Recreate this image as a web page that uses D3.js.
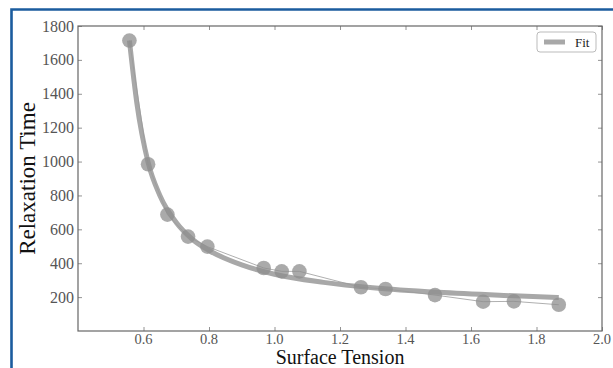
<!DOCTYPE html>
<html>
<head>
<meta charset="utf-8">
<script src="https://cdn.jsdelivr.net/npm/d3@7"></script>
<style>
  html, body { margin: 0; padding: 0; background: #fff; overflow: hidden; }
  svg { display: block; }
</style>
</head>
<body>
<div id="chart"></div>
<script>
// measured points
const tension = [0.557, 0.614, 0.673, 0.736, 0.795, 0.967, 1.022, 1.076, 1.264, 1.339, 1.490, 1.637, 1.731, 1.868];
const relaxTime = [1714, 984, 687, 557, 498, 372, 352, 352, 258, 248, 212, 173, 175, 155];

// fit curve
const fitX = [0.557, 0.58, 0.614, 0.65, 0.7, 0.75, 0.8, 0.9, 1.0, 1.15, 1.3, 1.5, 1.7, 1.868];
const fitY = [1714, 1340, 995, 800, 640, 540, 475, 390, 335, 287, 255, 228, 210, 198];

const xTicks = [0.6, 0.8, 1.0, 1.2, 1.4, 1.6, 1.8, 2.0];
const yTicks = [200, 400, 600, 800, 1000, 1200, 1400, 1600, 1800];

const W = 613, H = 368;
const m = { left: 78, right: 11, top: 26, bottom: 37 };
const serif = "'Liberation Serif', 'DejaVu Serif', serif";

const svg = d3.select("#chart").append("svg")
  .attr("width", W)
  .attr("height", H);

// blue frame round the figure
svg.append("path")
  .attr("d", `M11.5,${H + 5}V9.5H${W + 5}`)
  .attr("fill", "none")
  .attr("stroke", "#1b5c9e")
  .attr("stroke-width", 2.6);

const x = d3.scaleLinear().domain([0.4, 2.0]).range([m.left, W - m.right]);
const y = d3.scaleLinear().domain([0, 1800]).range([H - m.bottom, m.top]);

const g = svg.append("g");

// inward ticks on all sides
const tickLen = 4;
function styleAxis(sel) {
  sel.select(".domain").remove();
  sel.selectAll(".tick line").attr("stroke", "#777").attr("stroke-width", 0.8);
}
g.append("g").attr("transform", `translate(0,${y(0)})`)
  .call(d3.axisBottom(x).tickValues(xTicks).tickSize(-tickLen).tickFormat(""))
  .call(styleAxis);
g.append("g").attr("transform", `translate(0,${y(1800)})`)
  .call(d3.axisTop(x).tickValues(xTicks).tickSize(-tickLen).tickFormat(""))
  .call(styleAxis);
g.append("g").attr("transform", `translate(${x(0.4)},0)`)
  .call(d3.axisLeft(y).tickValues(yTicks).tickSize(-tickLen).tickFormat(""))
  .call(styleAxis);
g.append("g").attr("transform", `translate(${x(2.0)},0)`)
  .call(d3.axisRight(y).tickValues(yTicks).tickSize(-tickLen).tickFormat(""))
  .call(styleAxis);

// tick labels
g.selectAll(".xl").data(xTicks).join("text")
  .attr("x", d => x(d))
  .attr("y", y(0) + 12.5)
  .attr("text-anchor", "middle")
  .attr("font-family", serif)
  .attr("font-size", 14.5)
  .attr("fill", "#555")
  .text(d => d.toFixed(1));

g.selectAll(".yl").data(yTicks).join("text")
  .attr("x", x(0.4) - 4)
  .attr("y", d => y(d) + 5.5)
  .attr("text-anchor", "end")
  .attr("font-family", serif)
  .attr("font-size", 16)
  .attr("fill", "#555")
  .text(d => d);

// plot frame
g.append("rect")
  .attr("x", x(0.4)).attr("y", y(1800))
  .attr("width", x(2.0) - x(0.4)).attr("height", y(0) - y(1800))
  .attr("fill", "none")
  .attr("stroke", "#666")
  .attr("stroke-width", 1.2);

// fit
const fitData = fitX.map((v, i) => [v, fitY[i]]);
g.append("path")
  .datum(fitData)
  .attr("fill", "none")
  .attr("stroke", "#a8a8a8")
  .attr("stroke-width", 5)
  .attr("d", d3.line().x(d => x(d[0])).y(d => y(d[1])).curve(d3.curveMonotoneX));

// measurements: thin line + dots
const pts = tension.map((v, i) => [v, relaxTime[i]]);
g.append("path")
  .datum(pts)
  .attr("fill", "none")
  .attr("stroke", "#9a9a9a")
  .attr("stroke-width", 0.8)
  .attr("d", d3.line().x(d => x(d[0])).y(d => y(d[1])));

g.selectAll(".dot").data(pts).join("circle")
  .attr("cx", d => x(d[0]))
  .attr("cy", d => y(d[1]))
  .attr("r", 7.3)
  .attr("fill", "#8e8e8e")
  .attr("fill-opacity", 0.75);

// axis titles
svg.append("text")
  .attr("x", (x(0.4) + x(2.0)) / 2)
  .attr("y", 364.3)
  .attr("text-anchor", "middle")
  .attr("font-family", serif)
  .attr("font-size", 20)
  .attr("fill", "#111")
  .text("Surface Tension");

svg.append("text")
  .attr("transform", `translate(35,${(y(0) + y(1800)) / 2}) rotate(-90)`)
  .attr("text-anchor", "middle")
  .attr("font-family", serif)
  .attr("font-size", 23)
  .attr("fill", "#111")
  .text("Relaxation Time");

// legend
const lg = svg.append("g").attr("transform", "translate(537,32)");
lg.append("rect")
  .attr("width", 59).attr("height", 20).attr("rx", 3)
  .attr("fill", "#fff").attr("stroke", "#bbb").attr("stroke-width", 1);
lg.append("line")
  .attr("x1", 7).attr("x2", 28).attr("y1", 10).attr("y2", 10)
  .attr("stroke", "#a8a8a8").attr("stroke-width", 5);
lg.append("text")
  .attr("x", 38).attr("y", 14.5)
  .attr("font-family", serif)
  .attr("font-size", 13)
  .attr("fill", "#222")
  .text("Fit");
</script>
</body>
</html>
